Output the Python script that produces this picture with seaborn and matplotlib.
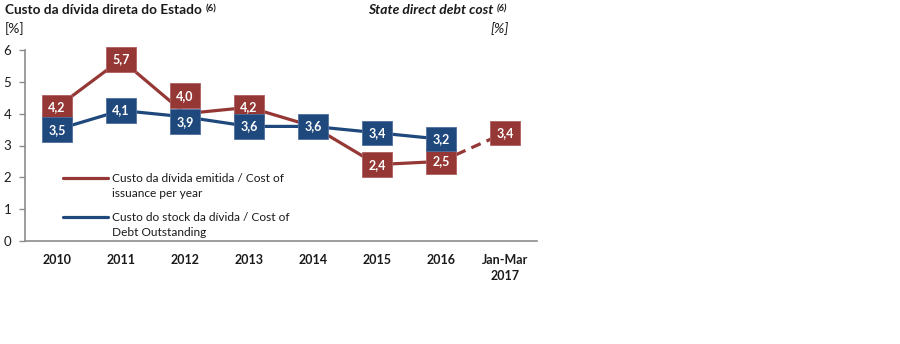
import matplotlib
matplotlib.use("Agg")
import matplotlib.pyplot as plt
from matplotlib.lines import Line2D
import seaborn as sns
import pandas as pd

# ---- data ----
categories = ["2010", "2011", "2012", "2013", "2014", "2015", "2016", "Jan-Mar\n2017"]
issuance = [4.2, 5.7, 4.0, 4.2, 3.6, 2.4, 2.5, 3.4]          # Custo da dívida emitida
stock = [3.5, 4.1, 3.9, 3.6, 3.6, 3.4, 3.2, None]            # Custo do stock da dívida
y_ticks = [0, 1, 2, 3, 4, 5, 6]
legend_issuance = ["Custo da dívida emitida / Cost of", "issuance per year"]
legend_stock = ["Custo do stock da dívida / Cost of", "Debt Outstanding"]
title_pt = "Custo da dívida direta do Estado"
title_en = "State direct debt cost"
note = "(6)"
unit = "[%]"

RED = "#953735"
BLUE = "#1F497D"
GRID = "#8C8C8C"
TXT = "#1A1A1A"
FONT = ["Lato", "DejaVu Sans"]

sns.set_theme(style="white")
plt.rcParams["font.family"] = FONT

df = pd.DataFrame({"cat": categories, "issuance": issuance, "stock": stock})
df["pos"] = range(len(df))

fig = plt.figure(figsize=(9.0, 3.44), dpi=100)
ax = fig.add_axes([25 / 900, 103 / 344, 512 / 900, 191 / 344])

LW = 2.3
solid = df.iloc[:7]
dashed = df.iloc[6:8]
sns.lineplot(data=solid, x="pos", y="issuance", color=RED, lw=LW, ax=ax,
             solid_capstyle="butt", zorder=3)
sns.lineplot(data=dashed, x="pos", y="issuance", color=RED, lw=LW, ax=ax,
             zorder=3, dashes=False, linestyle=(0, (3.2, 2)))
sns.lineplot(data=df.dropna(subset=["stock"]), x="pos", y="stock", color=BLUE,
             lw=LW, ax=ax, solid_capstyle="butt", zorder=4)

# data labels (offsets in points)
red_off = {2: 13}
blue_off = {2: -3.5}

def lab(v):
    return f"{v:.1f}".replace(".", ",")

for i, v in enumerate(issuance):
    if i == 4:
        continue
    ax.annotate(lab(v), xy=(i, v), xytext=(0, red_off.get(i, 0)), textcoords="offset points",
                ha="center", va="center", color="white", fontsize=9, fontweight="bold",
                bbox=dict(boxstyle="square,pad=0.5", fc=RED, ec="#B06060", lw=0.6), zorder=5)
for i, v in enumerate(stock):
    if v is None:
        continue
    ax.annotate(lab(v), xy=(i, v), xytext=(0, blue_off.get(i, 0)), textcoords="offset points",
                ha="center", va="center", color="white", fontsize=9, fontweight="bold",
                bbox=dict(boxstyle="square,pad=0.5", fc=BLUE, ec="#4F6F9D", lw=0.6), zorder=6)

ax.set_xlim(-0.5, len(categories) - 0.5)
ax.set_ylim(0, 6)
ax.set_yticks(y_ticks)
ax.set_yticklabels([str(t) for t in y_ticks], fontsize=9.5, color=TXT)
ax.set_xticks([i + 0.5 for i in range(len(categories))])
ax.set_xticklabels([])
ax.set_xticks(range(len(categories)), minor=True)
ax.set_xticklabels(categories, minor=True, fontsize=9, fontweight="bold", color=TXT,
                   linespacing=1.5)
ax.tick_params(axis="x", which="minor", length=0, pad=9)
ax.tick_params(axis="x", which="major", length=4, width=1, color=GRID, direction="out")
ax.tick_params(axis="y", length=4, width=1, color=GRID, direction="out", pad=6, left=True)
ax.set_xlabel("")
ax.set_ylabel("")
for s in ["top", "right"]:
    ax.spines[s].set_visible(False)
for s in ["left", "bottom"]:
    ax.spines[s].set_color(GRID)
    ax.spines[s].set_linewidth(1.2)

# legends (handle aligned with first line of each label)
blank = Line2D([], [], color="none")
leg_kw = dict(frameon=False, fontsize=8.6, handlelength=3.8, handletextpad=0.35,
              labelspacing=0.35, borderaxespad=0, labelcolor=TXT)
h_red = Line2D([], [], color=RED, lw=LW)
h_blue = Line2D([], [], color=BLUE, lw=LW)
leg1 = ax.legend([h_red, blank], legend_issuance, loc="upper left",
                 bbox_to_anchor=(33 / 512, 1 - 118 / 191), **leg_kw)
ax.add_artist(leg1)
ax.legend([h_blue, blank], legend_stock, loc="upper left",
          bbox_to_anchor=(33 / 512, 1 - 157 / 191), **leg_kw)

# titles
t1 = fig.text(5 / 900, 1 - 4 / 344, title_pt, ha="left", va="top", fontsize=9.8,
              fontweight="bold", color=TXT)
fig.text(5 / 900, 1 - 22 / 344, unit, ha="left", va="top", fontsize=10, color=TXT)
t2 = fig.text(493 / 900, 1 - 4 / 344, title_en, ha="right", va="top", fontsize=10,
              fontweight="bold", style="italic", color=TXT)
fig.text(509 / 900, 1 - 22 / 344, unit, ha="right", va="top", fontsize=10,
         style="italic", color=TXT)
for t, st in [(t1, "normal"), (t2, "italic")]:
    ax.annotate(note, xy=(1, 1), xycoords=t, xytext=(2.5, 0), textcoords="offset points",
                ha="left", va="top", fontsize=7, fontweight="bold", style=st,
                color=TXT, annotation_clip=False)

fig.savefig("out.png", dpi=100, facecolor="white")
